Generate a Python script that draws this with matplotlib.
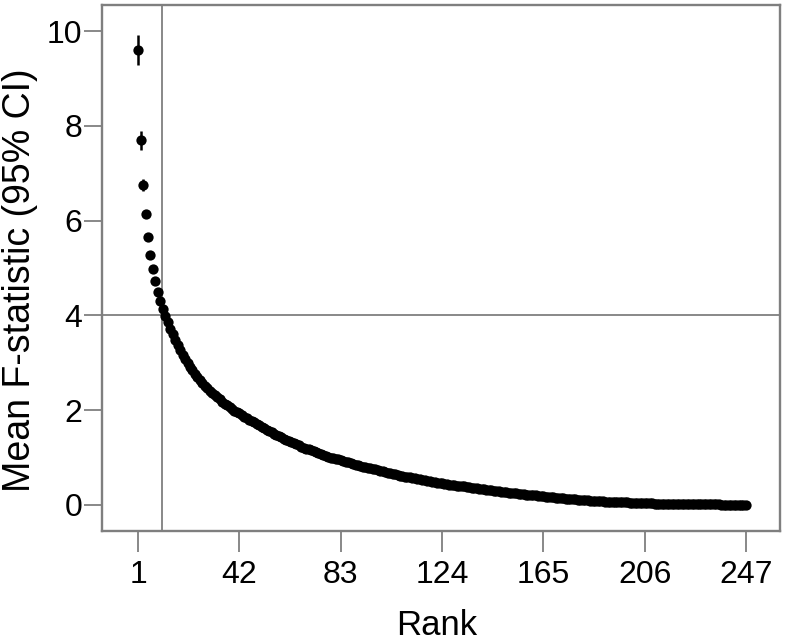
import matplotlib
matplotlib.use("Agg")
import matplotlib.pyplot as plt

plt.rcParams["font.family"] = ["Liberation Sans", "DejaVu Sans"]

# Mean F-statistic per rank
mean_f = [
    9.60, 7.70, 6.75, 6.14, 5.65, 5.27, 4.98, 4.72, 4.50, 4.31,
    4.14, 3.99, 3.85, 3.72, 3.60, 3.48, 3.37, 3.27, 3.17, 3.08,
    2.99, 2.91, 2.84, 2.77, 2.70, 2.64, 2.58, 2.52, 2.46, 2.41,
    2.36, 2.31, 2.27, 2.23, 2.18, 2.14, 2.10, 2.06, 2.03, 1.99,
    1.96, 1.93, 1.89, 1.86, 1.83, 1.80, 1.77, 1.74, 1.71, 1.68,
    1.65, 1.62, 1.59, 1.56, 1.53, 1.50, 1.48, 1.45, 1.43, 1.40,
    1.38, 1.35, 1.33, 1.30, 1.28, 1.26, 1.23, 1.21, 1.19, 1.17,
    1.15, 1.13, 1.11, 1.09, 1.07, 1.05, 1.04, 1.02, 1.00, 0.99,
    0.97, 0.96, 0.94, 0.93, 0.91, 0.90, 0.88, 0.87, 0.85, 0.84,
    0.83, 0.81, 0.80, 0.78, 0.77, 0.76, 0.75, 0.73, 0.72, 0.71,
    0.70, 0.68, 0.67, 0.66, 0.65, 0.64, 0.62, 0.61, 0.60, 0.59,
    0.58, 0.57, 0.56, 0.55, 0.54, 0.53, 0.52, 0.51, 0.50, 0.49,
    0.48, 0.47, 0.47, 0.46, 0.45, 0.44, 0.43, 0.43, 0.42, 0.41,
    0.40, 0.39, 0.39, 0.38, 0.37, 0.36, 0.36, 0.35, 0.34, 0.34,
    0.33, 0.32, 0.32, 0.31, 0.30, 0.30, 0.29, 0.28, 0.28, 0.27,
    0.26, 0.26, 0.25, 0.25, 0.24, 0.23, 0.23, 0.22, 0.22, 0.21,
    0.20, 0.20, 0.19, 0.19, 0.18, 0.17, 0.17, 0.16, 0.16, 0.15,
    0.15, 0.14, 0.14, 0.13, 0.13, 0.13, 0.12, 0.12, 0.11, 0.11,
    0.105, 0.100, 0.097, 0.093, 0.090, 0.086, 0.082, 0.078, 0.074, 0.070,
    0.068, 0.065, 0.063, 0.061, 0.060, 0.058, 0.056, 0.054, 0.052, 0.050,
    0.048, 0.046, 0.044, 0.042, 0.040, 0.038, 0.036, 0.034, 0.032, 0.030,
    0.029, 0.028, 0.027, 0.026, 0.025, 0.024, 0.023, 0.022, 0.021, 0.020,
    0.019, 0.018, 0.017, 0.016, 0.015, 0.015, 0.014, 0.013, 0.013, 0.012,
    0.012, 0.011, 0.011, 0.010, 0.010, 0.010, 0.009, 0.009, 0.008, 0.008,
    0.008, 0.007, 0.007, 0.006, 0.006, 0.006, 0.005,
]
ranks = list(range(1, len(mean_f) + 1))

# half-width of 95% CI, only visible for the top ranks
ci_half = [0.32, 0.20, 0.12, 0.09, 0.07, 0.06, 0.05, 0.04, 0.04, 0.03]

x_ticks = [1, 42, 83, 124, 165, 206, 247]
y_ticks = [0, 2, 4, 6, 8, 10]
f_threshold = 4
rank_cutoff = 10.7

fig = plt.figure(figsize=(7.86, 6.41), dpi=100)
ax = fig.add_axes([0.1298, 0.1716, 0.8626, 0.8206])

grey = "#7f7f7f"

ax.axhline(f_threshold, color=grey, linewidth=1.3, zorder=1)
ax.axvline(rank_cutoff, color=grey, linewidth=1.3, zorder=1)

ax.errorbar(ranks[:len(ci_half)], mean_f[:len(ci_half)], yerr=ci_half,
            fmt="none", ecolor="black", elinewidth=1.8, capsize=0, zorder=2)
ax.plot(ranks, mean_f, "o", color="black", markersize=7.4,
        markeredgewidth=0, zorder=3)

ax.set_xlim(-13.6, 260.8)
ax.set_ylim(-0.55, 10.55)
ax.set_xticks(x_ticks)
ax.set_yticks(y_ticks)

for side in ["left", "right", "top", "bottom"]:
    ax.spines[side].set_color(grey)
    ax.spines[side].set_linewidth(1.7)

ax.tick_params(axis="x", direction="out", length=15, width=1.3, color=grey,
               labelsize=23, pad=6)
ax.tick_params(axis="y", direction="out", length=13, width=1.3, color=grey,
               labelsize=23, pad=1)

ax.set_xlabel("Rank", fontsize=25, va="center")
ax.xaxis.set_label_coords(0.493, -0.179)
ax.set_ylabel("Mean F-statistic (95% CI)", fontsize=27, va="center")
ax.yaxis.set_label_coords(-0.121, 0.477)

fig.savefig("out.png", dpi=100)
